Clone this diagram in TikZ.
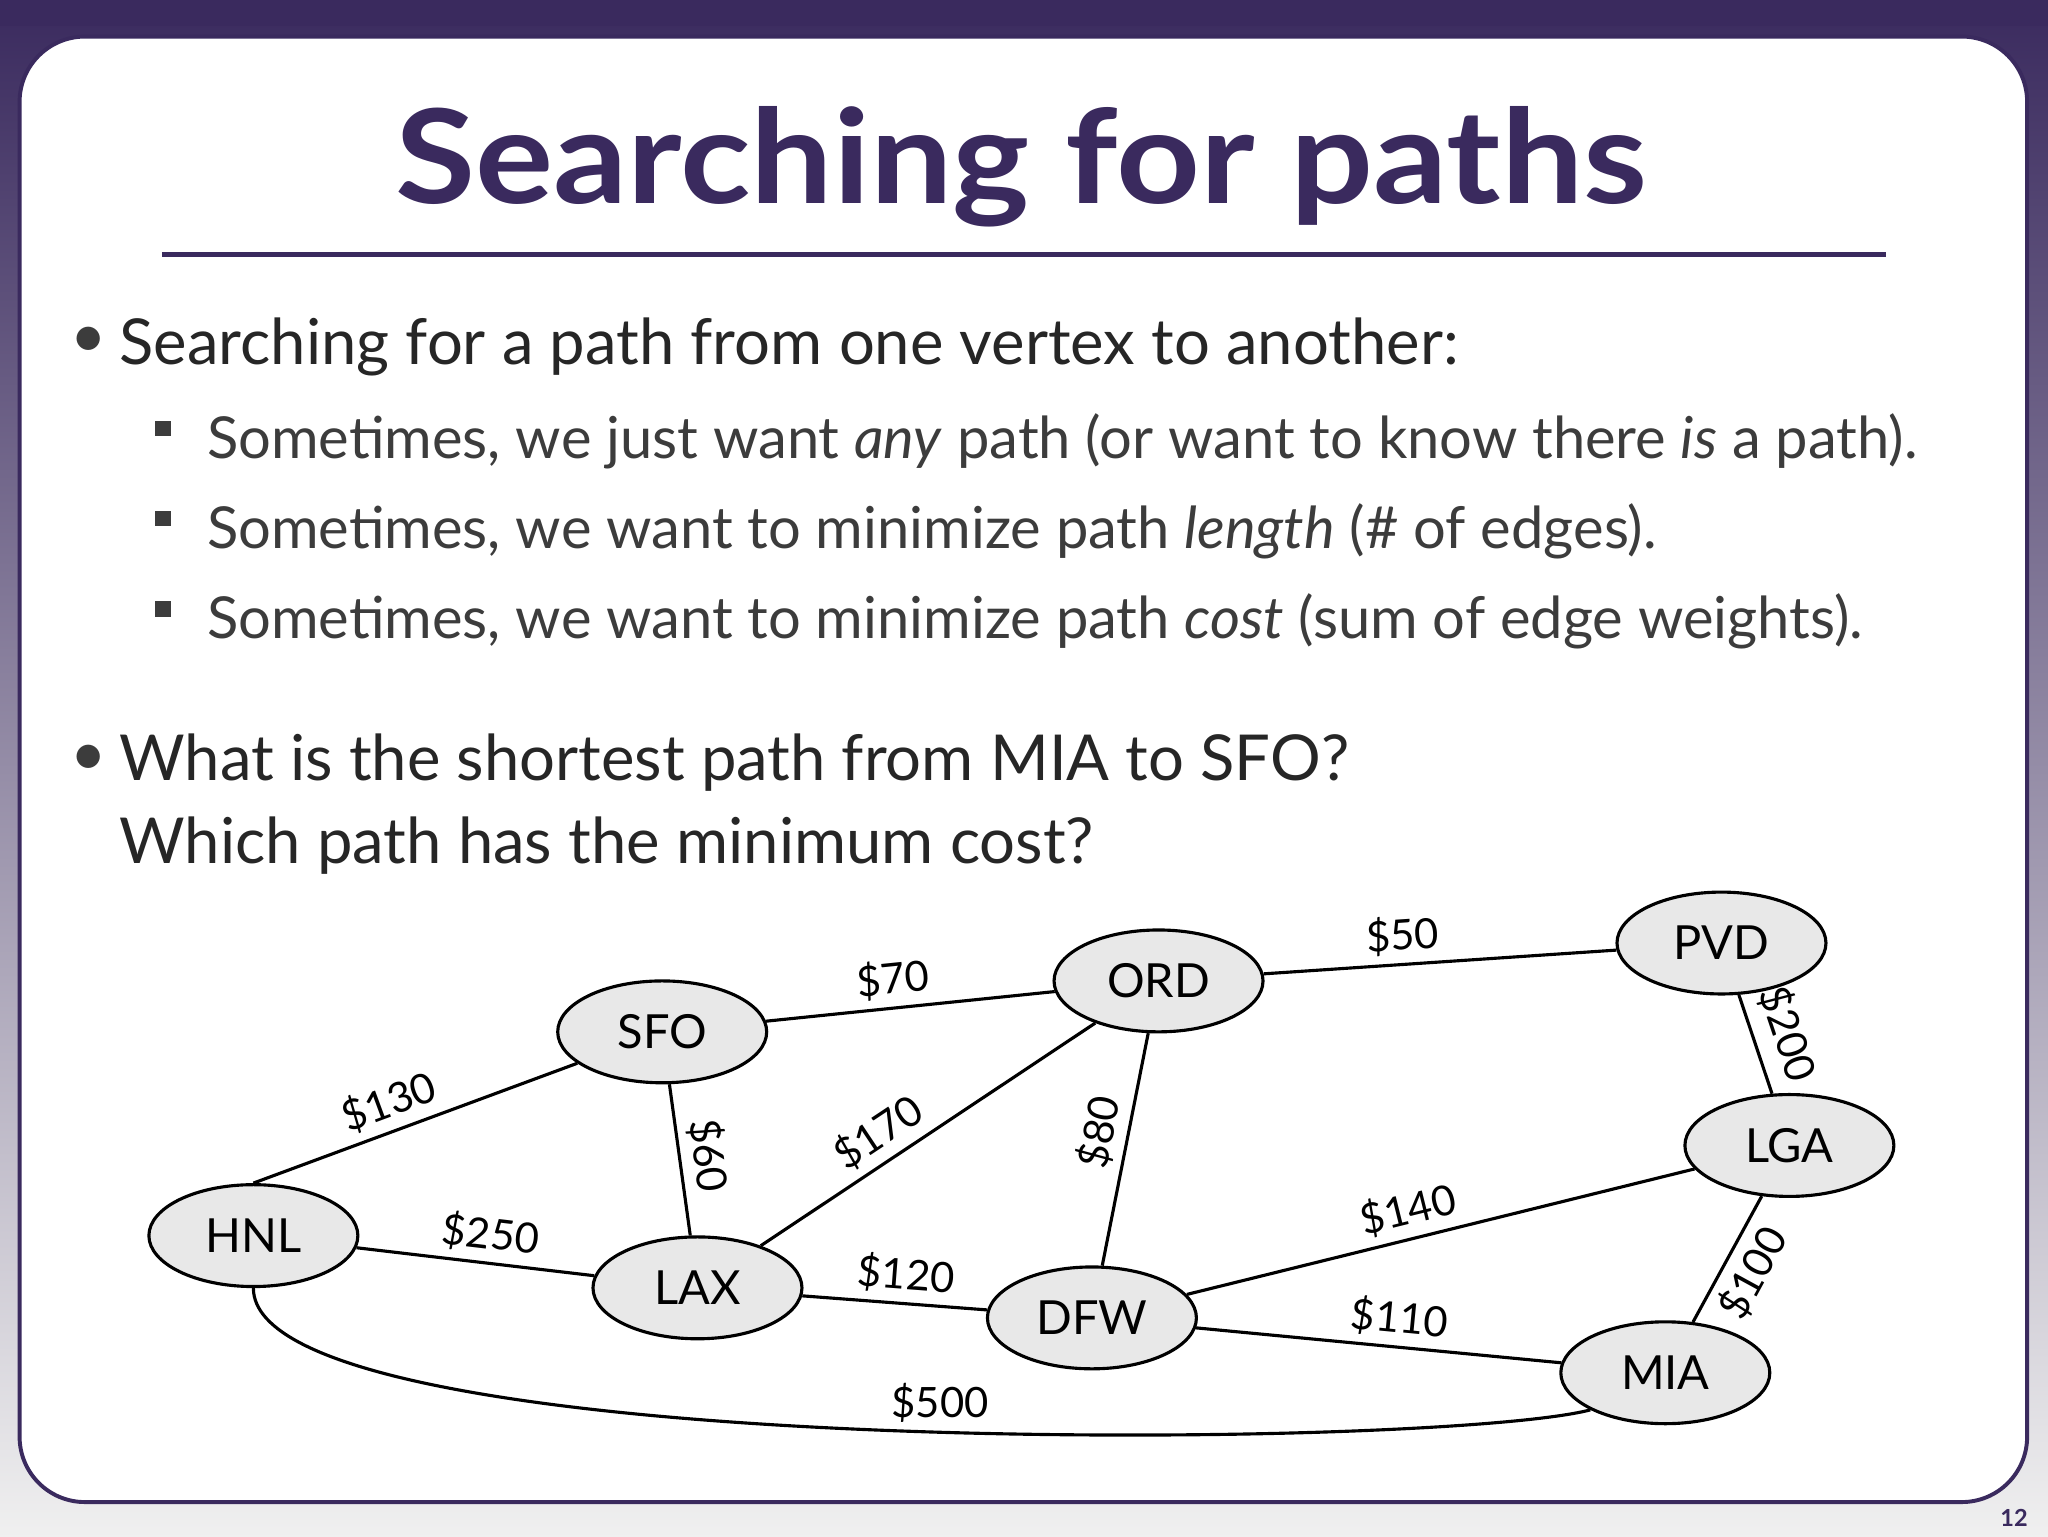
\documentclass[tikz,border=0pt]{standalone}
\usepackage{fontspec}
\setmainfont{Lato}
\usetikzlibrary{shapes.geometric}
\definecolor{dpurple}{HTML}{3A2A5E}
\definecolor{ngray}{HTML}{E8E8E8}
\definecolor{tgray}{HTML}{3C3C3C}
\begin{document}
\begin{tikzpicture}[x=1pt,y=-1pt,
  city/.style={ellipse,draw=black,fill=ngray,line width=2.4pt,minimum width=160pt,minimum height=78pt,inner sep=0pt,font=\fontsize{36}{36}\selectfont},
  edge/.style={line width=2.4pt},
  lab/.style={font=\fontsize{32}{32}\selectfont,sloped,inner sep=6pt}]
\useasboundingbox (0,0) rectangle (1568,1176);
\shade[top color=dpurple,bottom color=white!94!black] (0,0) rectangle (1568,1176);
\fill[dpurple] (0,0) rectangle (1568,20);
\draw[dpurple,fill=white,line width=3pt,rounded corners=50pt] (15,28) rectangle (1552,1150);
\node[font=\fontsize{100}{100}\selectfont\bfseries,text=dpurple,xscale=1.12] (title) at (782,128) {Searching for paths};
\draw[dpurple,line width=3.5pt] (124,195) -- (1444,195);
\node[font=\fontsize{48}{48}\selectfont,text=tgray] (b1) at (68,262) {\textbullet};
\node[anchor=west,font=\fontsize{48.5}{48.5}\selectfont,text=black!85] (t1) at (88,266) {Searching for a path from one vertex to another:};
\foreach \yy/\txt [count=\i] in {338/{Sometimes, we just want \emph{any} path (or want to know there \emph{is} a path).},
  407/{Sometimes, we want to minimize path \emph{length} (\# of edges).},
  476/{Sometimes, we want to minimize path \emph{cost} (sum of edge weights).}}{
  \node[fill=tgray,minimum size=12pt,inner sep=0pt] (sq\i) at (125,\yy-10) {};
  \node[anchor=west,font=\fontsize{44.3}{44.3}\selectfont,text=tgray] (s\i) at (155,\yy) {\txt};
}
\node[font=\fontsize{48}{48}\selectfont,text=tgray] (b2) at (68,582) {\textbullet};
\node[anchor=north west,align=left,font=\fontsize{48.5}{64}\selectfont,text=black!85] (t2) at (88,558) {What is the shortest path from MIA to SFO?\\Which path has the minimum cost?};
\node[city] (SFO) at (507,790) {SFO};
\node[city] (ORD) at (887,751) {ORD};
\node[city] (PVD) at (1318,722) {PVD};
\node[city] (LGA) at (1370,877) {LGA};
\node[city] (HNL) at (194,946) {HNL};
\node[city] (LAX) at (534,986) {LAX};
\node[city] (DFW) at (836,1009) {DFW};
\node[city] (MIA) at (1275,1051) {MIA};
\draw[edge] (SFO) -- node[lab,above,pos=0.45] {\$70} (ORD);
\draw[edge] (ORD) -- node[lab,above,pos=0.4] {\$50} (PVD);
\draw[edge] (PVD) -- node[lab,above,inner sep=10pt] {\$200} (LGA);
\draw[edge] (HNL.north) -- node[lab,above,pos=0.45] {\$130} (SFO);
\draw[edge] (SFO) -- node[lab,above] {\$60} (LAX);
\draw[edge] (LAX) -- node[lab,above,pos=0.4] {\$170} (ORD);
\draw[edge] (ORD) -- node[lab,above,pos=0.45] {\$80} (DFW);
\draw[edge] (DFW) -- node[lab,above,pos=0.45] {\$140} (LGA);
\draw[edge] (HNL) -- node[lab,above,pos=0.55] {\$250} (LAX);
\draw[edge] (LAX) -- node[lab,above,pos=0.55] {\$120} (DFW);
\draw[edge] (DFW) -- node[lab,above,pos=0.55] {\$110} (MIA);
\draw[edge] (LGA) -- node[lab,below,pos=0.5] {\$100} (MIA);
\draw[edge] (HNL.south) .. controls (194,1120) and (1100,1110) .. node[lab,above,pos=0.54,sloped=false] {\$500} (MIA.south west);
\node[font=\fontsize{18}{18}\selectfont\bfseries,text=dpurple] (pg) at (1542,1162) {12};
\end{tikzpicture}
\end{document}
